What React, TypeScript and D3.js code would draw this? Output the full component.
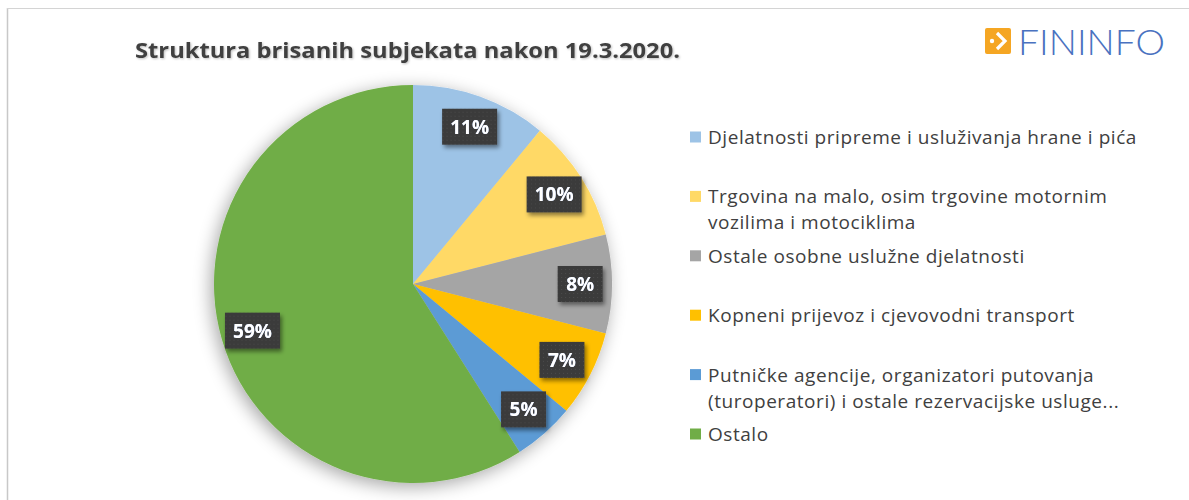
import React from "react";
import * as d3 from "d3";

const title = "Struktura brisanih subjekata nakon 19.3.2020.";
const categories = [
  "Djelatnosti pripreme i usluživanja hrane i pića",
  "Trgovina na malo, osim trgovine motornim vozilima i motociklima",
  "Ostale osobne uslužne djelatnosti",
  "Kopneni prijevoz i cjevovodni transport",
  "Putničke agencije, organizatori putovanja (turoperatori) i ostale rezervacijske usluge...",
  "Ostalo",
];
const legendLines = [
  ["Djelatnosti pripreme i usluživanja hrane i pića"],
  ["Trgovina na malo, osim trgovine motornim", "vozilima i motociklima"],
  ["Ostale osobne uslužne djelatnosti"],
  ["Kopneni prijevoz i cjevovodni transport"],
  ["Putničke agencije, organizatori putovanja", "(turoperatori) i ostale rezervacijske usluge..."],
  ["Ostalo"],
];
const values = [11, 10, 8, 7, 5, 59];
const colors = ["#9DC3E6", "#FFD966", "#A5A5A5", "#FFC000", "#5B9BD5", "#70AD47"];

const W = 1189;
const H = 500;
const cx = 413;
const cy = 284;
const R = 199;
const FONT = "'Open Sans', Lato, sans-serif";

export default function App() {
  const pie = d3.pie<number>().sort(null).value((d) => d)(values);
  const arc = d3.arc<d3.PieArcDatum<number>>().innerRadius(0).outerRadius(R);
  const labelArc = d3.arc<d3.PieArcDatum<number>>().innerRadius(R * 0.84).outerRadius(R * 0.84);
  const legendY = d3.scaleLinear().domain([0, 5]).range([137, 434]);

  return (
    <svg
      width={W}
      height={H}
      style={{ position: "absolute", left: 0, top: 0, background: "#fff" }}
      fontFamily={FONT}
    >
      <defs>
        <filter id="pieShadow" x="-20%" y="-20%" width="140%" height="140%">
          <feGaussianBlur in="SourceAlpha" stdDeviation="9" />
          <feOffset dx="-3" dy="4" result="b" />
          <feComponentTransfer>
            <feFuncA type="linear" slope="0.35" />
          </feComponentTransfer>
          <feMerge>
            <feMergeNode />
            <feMergeNode in="SourceGraphic" />
          </feMerge>
        </filter>
        <filter id="boxShadow" x="-30%" y="-30%" width="160%" height="160%">
          <feDropShadow dx="2" dy="3" stdDeviation="2" floodColor="#000" floodOpacity="0.45" />
        </filter>
        <filter id="textGlow" x="-20%" y="-20%" width="140%" height="140%">
          <feDropShadow dx="0" dy="0" stdDeviation="0.6" floodColor="#7fb2ff" floodOpacity="0.9" />
        </filter>
        <filter id="titleShadow" x="-5%" y="-20%" width="110%" height="150%">
          <feDropShadow dx="1" dy="1" stdDeviation="0.8" floodColor="#000" floodOpacity="0.25" />
        </filter>
        <pattern id="dots" width="4" height="4" patternUnits="userSpaceOnUse">
          <rect width="4" height="4" fill="#3a3a3a" />
          <rect x="1" y="1" width="1" height="1" fill="#4d4d4d" />
        </pattern>
      </defs>

      {/* chart frame */}
      <line x1={7.5} y1={8} x2={7.5} y2={H} stroke="#c8c8c8" strokeWidth={1.5} />
      <line x1={7} y1={8.5} x2={W} y2={8.5} stroke="#d4d4d4" strokeWidth={1} />

      {/* title */}
      <text
        x={135}
        y={50}
        dominantBaseline="central"
        fontSize={21}
        fontWeight={700}
        fill="#3f3f3f"
        textLength={545}
        lengthAdjust="spacingAndGlyphs"
        filter="url(#titleShadow)"
      >
        {title}
      </text>

      {/* logo */}
      <g>
        <rect x={985} y={28} width={26} height={26} rx={2} fill="#F5A623" />
        <circle cx={992} cy={41} r={2.2} fill="#fff" />
        <path d="M997 33 L1005 41 L997 49" fill="none" stroke="#fff" strokeWidth={3.2} />
        <text
          x={1018}
          y={41}
          dominantBaseline="central"
          fontSize={35}
          fontWeight={300}
          fill="#4A72C0"
          textLength={147}
          lengthAdjust="spacingAndGlyphs"
          fontFamily="Lato, 'DejaVu Sans', sans-serif"
        >
          FININFO
        </text>
      </g>

      {/* pie */}
      <g transform={`translate(${cx},${cy})`} filter="url(#pieShadow)">
        {pie.map((d, i) => (
          <path key={categories[i]} d={arc(d) || ""} fill={colors[i]} />
        ))}
      </g>

      {/* data labels */}
      <g transform={`translate(${cx},${cy})`}>
        {pie.map((d, i) => {
          const [lx, ly] = labelArc.centroid(d);
          const txt = `${values[i]}%`;
          const bw = txt.length === 3 ? 55 : 45;
          const bh = 36;
          return (
            <g key={"l" + i} transform={`translate(${lx},${ly})`}>
              <rect
                x={-bw / 2}
                y={-bh / 2}
                width={bw}
                height={bh}
                fill="url(#dots)"
                filter="url(#boxShadow)"
              />
              <text
                textAnchor="middle"
                dominantBaseline="central"
                fontSize={19}
                fontWeight={700}
                fill="#ffffff"
                filter="url(#textGlow)"
              >
                {txt}
              </text>
            </g>
          );
        })}
      </g>

      {/* legend */}
      <g>
        {legendLines.map((lines, i) => {
          const y = legendY(i);
          return (
            <g key={"lg" + i}>
              <rect x={690} y={y - 5.5} width={11} height={11} fill={colors[i]} />
              {lines.map((ln, j) => (
                <text
                  key={j}
                  x={708}
                  y={y + j * 26}
                  dominantBaseline="central"
                  fontSize={19}
                  letterSpacing={0.55}
                  fill="#404040"
                >
                  {ln}
                </text>
              ))}
            </g>
          );
        })}
      </g>
    </svg>
  );
}
